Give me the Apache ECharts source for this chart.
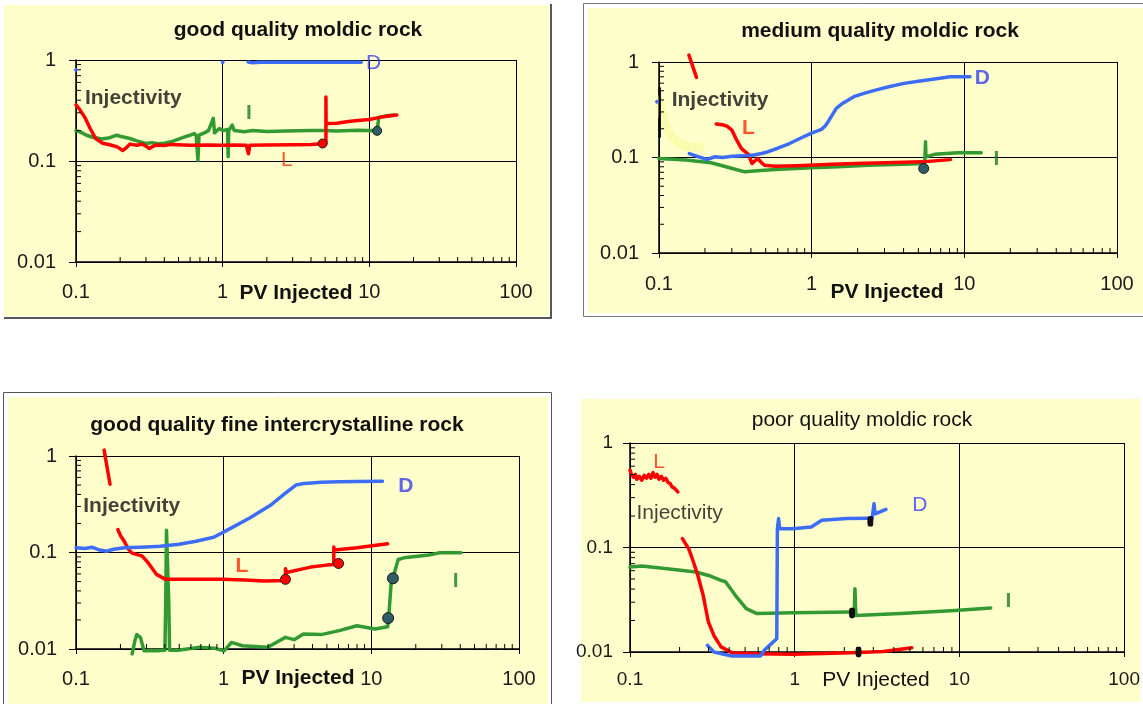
<!DOCTYPE html>
<html><head><meta charset="utf-8">
<script src="https://cdn.jsdelivr.net/npm/echarts@6/dist/echarts.min.js"></script>
<style>html,body{margin:0;padding:0;background:#fff}#c{width:1143px;height:704px}</style>
</head><body><div id="c"></div>
<script>
// ---------- axis ranges / tick labels ----------
const xRange = [0.1, 100];
const yRange = [0.01, 1];
const xTickLabels = ['0.1', '1', '10', '100'];
const yTickLabels = ['0.01', '0.1', '1'];
const xAxisName = 'PV Injected';

// ---------- panel titles ----------
const titles = ['good quality moldic rock', 'medium quality moldic rock',
  'good quality fine intercrystalline rock', 'poor quality moldic rock'];

// ---------- panel 1: good quality moldic rock ----------
const p1_L = [[0.1,0.36],[0.105,0.33],[0.115,0.27],[0.125,0.21],[0.136,0.167],[0.152,0.15],[0.17,0.145],[0.191,0.138],[0.208,0.127],[0.22,0.135],[0.233,0.147],[0.26,0.143],[0.283,0.147],[0.3,0.14],[0.317,0.133],[0.335,0.14],[0.355,0.144],[0.4,0.142],[0.445,0.146],[0.6,0.143],[0.8,0.144],[1.0,0.143],[1.2,0.144],[1.45,0.143],[1.5,0.118],[1.53,0.143],[2.0,0.144],[3.0,0.145],[4.0,0.146],[4.8,0.148],[5.06,0.15],[5.06,0.43],[5.07,0.235],[6,0.236],[7,0.245],[8,0.25],[10,0.258],[12,0.272],[15.4,0.285]];
const p1_I = [[0.1,0.2],[0.105,0.195],[0.11,0.19],[0.118,0.18],[0.13,0.172],[0.15,0.165],[0.17,0.17],[0.19,0.18],[0.2,0.176],[0.233,0.167],[0.26,0.158],[0.3,0.149],[0.33,0.152],[0.36,0.148],[0.4,0.15],[0.445,0.155],[0.5,0.165],[0.557,0.174],[0.6,0.18],[0.641,0.187],[0.66,0.178],[0.678,0.102],[0.69,0.18],[0.75,0.19],[0.8,0.2],[0.863,0.264],[0.88,0.19],[0.95,0.21],[1.0,0.2],[1.08,0.205],[1.09,0.11],[1.1,0.2],[1.16,0.227],[1.2,0.2],[1.4,0.195],[1.6,0.2],[2.0,0.196],[2.7,0.198],[4.0,0.2],[5.0,0.2],[6.0,0.198],[8.3,0.202],[11.3,0.199],[11.5,0.2],[11.6,0.27],[13,0.28],[14.8,0.285]];
const p1_D = [[1.49,0.955],[1.6,0.94],[1.8,0.95],[2.5,0.948],[4,0.95],[6,0.948],[8.8,0.95]];
const p1_Ddots = [[1.0,0.95],[0.1,0.8]];
const p1_redDots = [[4.8,0.149]];
const p1_darkDots = [[11.3,0.199]];
const p1_text = [['Injectivity',0.115,0.417],['I',1.51,0.296],['L',2.74,0.103],['D',10.7,0.94]];

// ---------- panel 2: medium quality moldic rock ----------
const p2_D = [[0.158,0.110],[0.18,0.102],[0.207,0.0953],[0.231,0.1016],[0.26,0.1],[0.302,0.103],[0.36,0.104],[0.418,0.106],[0.47,0.11],[0.519,0.115],[0.6,0.125],[0.716,0.14],[0.85,0.16],[0.99,0.179],[1.16,0.197],[1.23,0.215],[1.30,0.246],[1.45,0.327],[1.6,0.37],[1.89,0.433],[2.2,0.47],[2.62,0.508],[3.2,0.55],[4.03,0.597],[5,0.63],[6.2,0.658],[8.1,0.70],[10.9,0.70]];
const p2_Ddots = [[0.097,0.384]];
const p2_Ltop = [[0.157,1.18],[0.176,0.69]];
const p2_L = [[0.237,0.224],[0.26,0.22],[0.279,0.213],[0.3,0.194],[0.319,0.158],[0.347,0.124],[0.385,0.108],[0.407,0.0865],[0.442,0.0977],[0.47,0.088],[0.491,0.083],[0.578,0.081],[0.8,0.082],[1.37,0.085],[2.2,0.087],[3.08,0.088],[5.28,0.090],[8.1,0.095]];
const p2_I = [[0.1,0.0977],[0.15,0.094],[0.219,0.088],[0.26,0.082],[0.302,0.0767],[0.365,0.0708],[0.44,0.0725],[0.578,0.0748],[0.99,0.078],[1.5,0.08],[2.35,0.083],[4,0.085],[5.5,0.0865],[5.57,0.146],[5.6,0.1016],[6.38,0.108],[9.06,0.112],[12.9,0.112]];
const p2_black = [[0.101,0.53],[0.101,0.165]];
const p2_smear = [[0.1,0.4],[0.104,0.3],[0.11,0.22],[0.12,0.17],[0.135,0.14],[0.16,0.128],[0.185,0.128]];
const p2_darkDots = [[5.42,0.0767]];
const p2_text = [['Injectivity',0.121,0.40],['L',0.385,0.205],['D',13.1,0.674],['I',16.2,0.095]];

// ---------- panel 3: good quality fine intercrystalline rock ----------
const p3_D = [[0.1,0.112],[0.115,0.11],[0.128,0.1135],[0.145,0.106],[0.161,0.103],[0.18,0.108],[0.212,0.112],[0.3,0.114],[0.372,0.116],[0.5,0.122],[0.65,0.131],[0.857,0.144],[1.13,0.18],[1.5,0.228],[2.1,0.313],[2.62,0.412],[3.1,0.502],[3.5,0.52],[4.58,0.535],[6,0.54],[8,0.544],[11.9,0.546]];
const p3_Ltop = [[0.155,1.15],[0.17,0.51]];
const p3_L = [[0.192,0.173],[0.2,0.15],[0.212,0.131],[0.225,0.11],[0.238,0.099],[0.26,0.095],[0.281,0.0917],[0.3,0.082],[0.314,0.0752],[0.351,0.0593],[0.404,0.0527],[0.55,0.0527],[0.96,0.0527],[1.4,0.052],[1.87,0.0506],[2.3,0.051],[2.62,0.0514],[2.62,0.068],[2.66,0.062],[3.2,0.066],[3.88,0.0706],[5.0,0.074],[5.57,0.075],[5.57,0.114],[5.62,0.106],[8.0,0.112],[12.9,0.123]];
const p3_I = [[0.24,0.0089],[0.25,0.012],[0.258,0.0141],[0.265,0.0145],[0.273,0.0132],[0.289,0.0096],[0.351,0.0096],[0.4,0.0097],[0.405,0.03],[0.41,0.17],[0.42,0.17],[0.425,0.03],[0.43,0.0097],[0.49,0.0097],[0.6,0.0101],[0.687,0.0104],[0.857,0.0102],[1.01,0.0096],[1.13,0.0117],[1.34,0.0108],[1.98,0.0104],[2.3,0.0118],[2.62,0.0132],[3.0,0.0125],[3.47,0.0143],[4.58,0.0141],[6.05,0.0155],[8.0,0.0174],[10.6,0.0161],[12.9,0.017],[13.1,0.0209],[13.6,0.0468],[14.0,0.054],[15.2,0.0847],[16.6,0.088],[24.5,0.094],[29,0.0993],[40.5,0.0993]];
const p3_redDots = [[2.62,0.0527],[6.0,0.077]];
const p3_darkDots = [[14.0,0.054],[13.0,0.0209]];
const p3_text = [['Injectivity',0.112,0.30],['L',1.33,0.0723],['D',17.1,0.483],['I',37.2,0.0499]];

// ---------- panel 4: poor quality moldic rock ----------
const p4_Ltop = [[0.1,0.55],[0.102,0.5],[0.105,0.47],[0.108,0.5],[0.11,0.45],[0.114,0.48],[0.118,0.44],[0.122,0.49],[0.126,0.46],[0.13,0.5],[0.134,0.46],[0.138,0.52],[0.142,0.47],[0.146,0.5],[0.15,0.45],[0.155,0.48],[0.16,0.44],[0.165,0.46],[0.17,0.42],[0.175,0.41],[0.18,0.38],[0.186,0.37],[0.195,0.34]];
const p4_L = [[0.208,0.1215],[0.227,0.0975],[0.239,0.078],[0.258,0.0542],[0.278,0.0349],[0.299,0.0194],[0.323,0.0144],[0.357,0.0112],[0.415,0.00986],[0.59,0.0096],[0.977,0.0095],[1.5,0.0097],[2.42,0.0099],[3.44,0.0101],[5.14,0.011]];
const p4_D = [[0.295,0.0116],[0.323,0.01],[0.415,0.00916],[0.62,0.00916],[0.653,0.0104],[0.741,0.0125],[0.778,0.0134],[0.785,0.151],[0.798,0.189],[0.81,0.151],[0.977,0.151],[1.26,0.157],[1.46,0.182],[2.07,0.189],[2.81,0.191],[2.95,0.19],[3.03,0.263],[3.08,0.21],[3.58,0.232]];
const p4_I = [[0.1,0.065],[0.118,0.0665],[0.168,0.0627],[0.251,0.0583],[0.3,0.054],[0.357,0.0485],[0.38,0.047],[0.436,0.0349],[0.508,0.026],[0.59,0.0233],[0.977,0.0238],[2.18,0.0242],[2.3,0.0242],[2.32,0.0404],[2.35,0.0224],[4.41,0.0233],[9.4,0.025],[15.5,0.0264]];
const p4_blackMarks = [[2.44,0.01],[2.88,0.178],[2.23,0.0236]];
const p4_text = [['L',0.15,0.658],['Injectivity',0.1095,0.211],['D',5.74,0.253],['I',19.8,0.0305]];

// ---------- styling / layout ----------
const FONT = 'Liberation Sans';
const RED = '#ff0000', BLUE = '#3d6cf5', GREEN = '#339933';
const TXT = {L: '#ff2a00', D: '#3340ee', I: '#1f7a1f', Injectivity: '#111'};
const grids = [
  {left: 76, top: 60, width: 440, height: 202},
  {left: 659, top: 62, width: 458, height: 191},
  {left: 76, top: 456, width: 443, height: 193},
  {left: 630, top: 443, width: 495, height: 209}
];
const panelCfg = [
  {xMargin: 20, yMargin: 20, labelSize: 20, nameX: 296, nameY: 293, nameBold: 'bold', titleBold: 'bold', titleX: 298, titleY: 30, textBold: {Injectivity:'bold', I:'bold', L:'normal', D:'normal'}},
  {xMargin: 21, yMargin: 20, labelSize: 20, nameX: 887, nameY: 292, nameBold: 'bold', titleBold: 'bold', titleX: 880, titleY: 31, textBold: {Injectivity:'bold', I:'bold', L:'bold', D:'bold'}},
  {xMargin: 20, yMargin: 19, labelSize: 20, nameX: 298, nameY: 678, nameBold: 'bold', titleBold: 'bold', titleX: 277, titleY: 425, textBold: {Injectivity:'bold', I:'bold', L:'bold', D:'bold'}},
  {xMargin: 18, yMargin: 17, labelSize: 19, nameX: 876, nameY: 680, nameBold: 'normal', titleBold: 'normal', titleX: 862, titleY: 420, textBold: {Injectivity:'normal', I:'bold', L:'normal', D:'normal'}}
];

function minorTickData() {
  const out = [];
  for (let e = -1; e < 2; e++) for (let m = 2; m <= 9; m++) out.push([m * Math.pow(10, e), yRange[0], 0]);
  for (let e = -2; e < 0; e++) for (let m = 2; m <= 9; m++) out.push([xRange[0], m * Math.pow(10, e), 1]);
  return out;
}

const xAxes = [], yAxes = [], series = [];
grids.forEach((g, i) => {
  const c = panelCfg[i];
  xAxes.push({
    gridIndex: i, type: 'log', logBase: 10, min: xRange[0], max: xRange[1],
    axisLine: {show: true, onZero: false, lineStyle: {color: '#000', width: 1.5}},
    axisTick: {show: true, inside: false, length: 5, lineStyle: {color: '#000', width: 1}},
    minorTick: {show: false},
    splitLine: {show: true, lineStyle: {color: '#000', width: 1}},
    axisLabel: {fontFamily: FONT, fontSize: c.labelSize, color: '#1a1a1a', margin: c.xMargin,
      formatter: v => xTickLabels.find(t => Math.abs(parseFloat(t) - v) < 1e-9 * Math.max(1, v)) || ''}
  });
  yAxes.push({
    gridIndex: i, type: 'log', logBase: 10, min: yRange[0], max: yRange[1],
    axisLine: {show: true, onZero: false, lineStyle: {color: '#000', width: 1.5}},
    axisTick: {show: true, inside: false, length: 7, lineStyle: {color: '#000', width: 1}},
    splitLine: {show: true, lineStyle: {color: '#000', width: 1}},
    axisLabel: {fontFamily: FONT, fontSize: c.labelSize, color: '#1a1a1a', margin: c.yMargin,
      formatter: v => yTickLabels.find(t => Math.abs(parseFloat(t) - v) < 1e-9) || ''}
  });
  series.push({
    type: 'custom', xAxisIndex: i, yAxisIndex: i, silent: true, z: 5, clip: false,
    data: minorTickData(),
    renderItem: (params, api) => {
      const p = api.coord([api.value(0), api.value(1)]);
      const k = api.value(2);
      return {type: 'line', shape: k === 0 ? {x1: p[0], y1: p[1], x2: p[0], y2: p[1] - 5} : {x1: p[0], y1: p[1], x2: p[0] + 5, y2: p[1]},
        style: {stroke: '#000', lineWidth: 1}};
    }
  });
});

function line(i, data, color, z, width) {
  series.push({type: 'line', xAxisIndex: i, yAxisIndex: i, data: data, showSymbol: false, symbol: 'none',
    clip: false, silent: true, z: z || 3, animation: false,
    lineStyle: {color: color, width: width || 3.5, join: 'round', cap: 'round'}});
}
function dots(i, data, fill, size, symbol, stroke) {
  series.push({type: 'scatter', xAxisIndex: i, yAxisIndex: i, data: data, symbol: symbol || 'circle',
    symbolSize: size, silent: true, z: 6, clip: false, animation: false,
    itemStyle: {color: fill, borderColor: stroke || '#1a1a1a', borderWidth: 1, opacity: 1}});
}
function texts(i, arr) {
  const c = panelCfg[i];
  series.push({type: 'scatter', xAxisIndex: i, yAxisIndex: i, symbolSize: 0, silent: true, z: 7, clip: false, animation: false,
    data: arr.map(t => ({value: [t[1], t[2]], label: {
      show: true, formatter: t[0], position: t[0] === 'Injectivity' ? 'right' : 'inside', distance: 0,
      fontFamily: FONT, fontSize: 21, fontWeight: c.textBold[t[0]],
      color: TXT[t[0]]}}))});
}

// panel 1
line(0, p1_I, GREEN, 2); line(0, p1_L, RED, 3); line(0, p1_D, BLUE, 4);
dots(0, p1_Ddots, BLUE, 3, 'circle', BLUE);
dots(0, p1_redDots, RED, 9); dots(0, p1_darkDots, '#2f5d66', 9);
texts(0, p1_text);
// panel 2
line(1, p2_smear, '#fbfbb0', 1, 9);
line(1, p2_black, '#000', 4, 2.5);
line(1, p2_I, GREEN, 2); line(1, p2_L, RED, 3); line(1, p2_Ltop, RED, 3); line(1, p2_D, BLUE, 4);
dots(1, p2_Ddots, BLUE, 3, 'circle', BLUE);
dots(1, p2_darkDots, '#2f5d66', 10);
texts(1, p2_text);
// panel 3
line(2, p3_I, GREEN, 2); line(2, p3_L, RED, 3); line(2, p3_Ltop, RED, 3); line(2, p3_D, BLUE, 4);
dots(2, p3_redDots, RED, 10); dots(2, p3_darkDots, '#2f5d66', 11);
texts(2, p3_text);
// panel 4
line(3, p4_I, GREEN, 2); line(3, p4_L, RED, 3); line(3, p4_Ltop, RED, 3); line(3, p4_D, BLUE, 4);
dots(3, p4_blackMarks, '#111', [5, 9], 'roundRect', '#000');
texts(3, p4_text);

const graphic = [
  {type: 'rect', z: -10, shape: {x: 4, y: 5, width: 545, height: 311}, style: {fill: '#ffffcc'}},
  {type: 'polyline', z: -9, shape: {points: [[551, 4], [551, 318], [4, 318]]}, style: {stroke: '#222', lineWidth: 1.5, fill: null}},
  {type: 'rect', z: -10, shape: {x: 583.5, y: 3.5, width: 565, height: 313}, style: {fill: '#fff', stroke: '#777', lineWidth: 1}},
  {type: 'rect', z: -9, shape: {x: 588, y: 8, width: 555, height: 305}, style: {fill: '#ffffcc'}},
  {type: 'rect', z: -10, shape: {x: 3.5, y: 392.5, width: 548, height: 320}, style: {fill: '#fff', stroke: '#555', lineWidth: 1}},
  {type: 'rect', z: -9, shape: {x: 8, y: 397, width: 540, height: 310}, style: {fill: '#ffffcc'}},
  {type: 'rect', z: -10, shape: {x: 581, y: 399, width: 559, height: 303}, style: {fill: '#ffffcc'}}
];
titles.forEach((t, i) => {
  const c = panelCfg[i];
  graphic.push({type: 'text', z: 10, x: c.titleX, y: c.titleY, style: {text: t, fontFamily: FONT,
    fontSize: 21, fontWeight: c.titleBold, fill: '#111', align: 'center', verticalAlign: 'middle'}});
  graphic.push({type: 'text', z: 10, x: c.nameX, y: c.nameY, style: {text: xAxisName, fontFamily: FONT,
    fontSize: 21, fontWeight: c.nameBold, fill: '#111', align: 'center', verticalAlign: 'middle'}});
});

const chart = echarts.init(document.getElementById('c'), null, {renderer: 'canvas'});
chart.setOption({
  animation: false,
  backgroundColor: '#fff',
  grid: grids.map(g => Object.assign({show: false, containLabel: false}, g)),
  xAxis: xAxes, yAxis: yAxes, series: series, graphic: graphic
});
</script></body></html>
